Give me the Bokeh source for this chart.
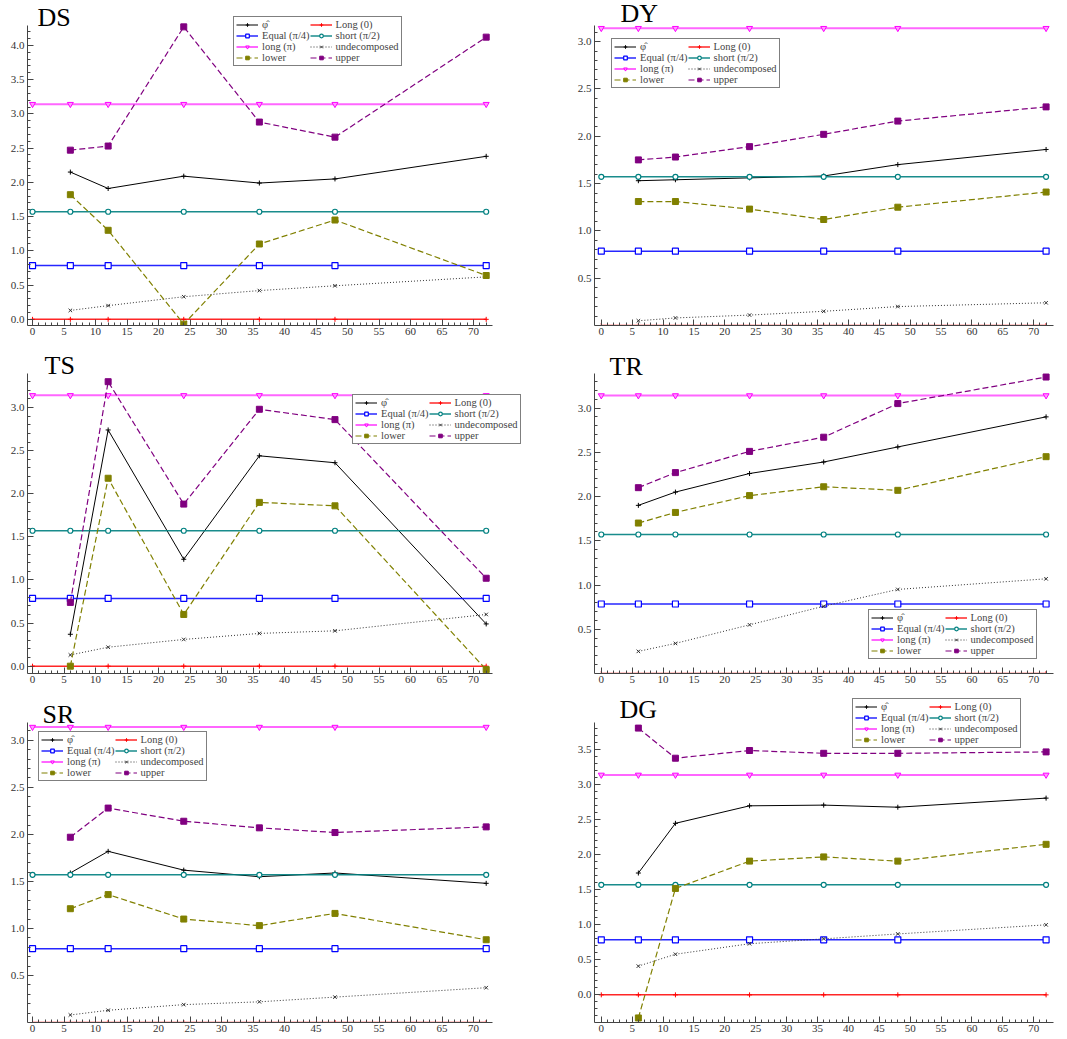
import numpy as np
from bokeh.plotting import figure
from bokeh.models import FixedTicker, Label, Legend, LegendItem, Range1d, PrintfTickFormatter
from bokeh.layouts import column, row
from bokeh.embed import file_html
from bokeh.resources import INLINE

# ---------------- data ----------------
X_CONST = [0, 6, 12, 24, 36, 48, 72]
X_DATA = [6, 12, 24, 36, 48, 72]

LONG0 = 0.0
EQUAL = np.pi / 4
SHORT = np.pi / 2
LONGPI = np.pi

DS_phi = [2.15, 1.91, 2.09, 1.99, 2.05, 2.38]
DS_lower = [1.82, 1.30, -0.07, 1.10, 1.45, 0.64]
DS_upper = [2.47, 2.53, 4.27, 2.88, 2.66, 4.12]
DS_undec = [0.13, 0.20, 0.33, 0.42, 0.49, 0.62]

DY_phi = [1.53, 1.54, 1.56, 1.58, 1.70, 1.86]
DY_lower = [1.31, 1.31, 1.23, 1.12, 1.25, 1.41]
DY_upper = [1.75, 1.78, 1.89, 2.02, 2.16, 2.31]
DY_undec = [0.05, 0.08, 0.11, 0.15, 0.20, 0.24]

TS_phi = [0.37, 2.74, 1.24, 2.44, 2.36, 0.49]
TS_lower = [0.00, 2.18, 0.60, 1.90, 1.86, -0.04]
TS_upper = [0.74, 3.30, 1.88, 2.98, 2.86, 1.02]
TS_undec = [0.13, 0.22, 0.31, 0.38, 0.41, 0.60]

TR_phi = [1.90, 2.05, 2.26, 2.39, 2.56, 2.90]
TR_lower = [1.70, 1.82, 2.01, 2.11, 2.07, 2.45]
TR_upper = [2.10, 2.27, 2.51, 2.67, 3.05, 3.35]
TR_undec = [0.25, 0.34, 0.55, 0.76, 0.95, 1.07]

SR_phi = [1.59, 1.82, 1.62, 1.55, 1.59, 1.48]
SR_lower = [1.21, 1.36, 1.10, 1.03, 1.16, 0.88]
SR_upper = [1.97, 2.28, 2.14, 2.07, 2.02, 2.08]
SR_undec = [0.08, 0.13, 0.19, 0.22, 0.27, 0.37]

DG_phi = [1.74, 2.45, 2.70, 2.71, 2.68, 2.81]
DG_lower = [-0.33, 1.52, 1.91, 1.97, 1.91, 2.15]
DG_upper = [3.81, 3.38, 3.49, 3.45, 3.45, 3.47]
DG_undec = [0.41, 0.58, 0.73, 0.80, 0.87, 1.00]

X_TICKS = [0, 5, 10, 15, 20, 25, 30, 35, 40, 45, 50, 55, 60, 65, 70]
Y_TICKS = [0.0, 0.5, 1.0, 1.5, 2.0, 2.5, 3.0, 3.5, 4.0]

LABELS = ["\u03c6\u0302", "Long (0)", "Equal (\u03c0/4)", "short (\u03c0/2)",
          "long (\u03c0)", "undecomposed", "lower", "upper"]

SERIF = "Liberation Serif"

panels = [
    dict(name="DS", phi=DS_phi, lower=DS_lower, upper=DS_upper, undec=DS_undec,
         yr=(-0.09, 4.29), zero=True, side="L", rowi=0, leg=(206, 259), tx=10, ty=8),
    dict(name="DY", phi=DY_phi, lower=DY_lower, upper=DY_upper, undec=DY_undec,
         yr=(0.0, 3.17), zero=False, side="R", rowi=0, leg=(17, 237), tx=26, ty=12),
    dict(name="TS", phi=TS_phi, lower=TS_lower, upper=TS_upper, undec=TS_undec,
         yr=(-0.085, 3.395), zero=True, side="L", rowi=1, leg=(325, 229), tx=17, ty=8),
    dict(name="TR", phi=TR_phi, lower=TR_lower, upper=TR_upper, undec=TR_undec,
         yr=(0.0, 3.39), zero=False, side="R", rowi=1, leg=(274, 14), tx=15, ty=7),
    dict(name="SR", phi=SR_phi, lower=SR_lower, upper=SR_upper, undec=SR_undec,
         yr=(0.0, 3.19), zero=False, side="L", rowi=2, leg=(11, 241), tx=15, ty=8),
    dict(name="DG", phi=DG_phi, lower=DG_lower, upper=DG_upper, undec=DG_undec,
         yr=(-0.395, 3.89), zero=True, side="R", rowi=2, leg=(258, 274), tx=25, ty=13),
]

FRAME_H = 300  # height of the axis box in px
ROWS = [dict(top=25, bot=15), dict(top=33, bot=15), dict(top=34, bot=15)]


def make_panel(c):
    r = ROWS[c["rowi"]]
    h = r["top"] + FRAME_H + r["bot"]
    if c["side"] == "L":
        w, bl, inner_w, xr = 533, 27, 465, (-0.8, 73.0)
    else:
        w, bl, inner_w, xr = 534, 61, 459, (-1.1, 73.2)
    br = w - bl - inner_w
    ymin, ymax = c["yr"]
    sy = FRAME_H / (ymax - ymin)
    sx = inner_w / (xr[1] - xr[0])
    # extend the frame over the title/legend margins so nothing is clipped
    y_top = ymax + r["top"] / sy
    x_right = xr[1] + br / sx
    p = figure(width=w, height=h, x_range=Range1d(xr[0], x_right),
               y_range=Range1d(ymin, y_top),
               output_backend="svg", toolbar_location=None,
               min_border_left=bl, min_border_right=0,
               min_border_top=0, min_border_bottom=r["bot"])
    p.outline_line_color = None
    p.grid.visible = False
    p.background_fill_color = "white"
    p.border_fill_color = "white"

    for ax in (p.xaxis[0], p.yaxis[0]):
        ax.axis_line_color = "#444444"
        ax.major_tick_line_color = "#444444"
        ax.minor_tick_line_color = "#444444"
        ax.major_tick_in = 6
        ax.major_tick_out = 0
        ax.minor_tick_in = 3
        ax.minor_tick_out = 0
        ax.major_label_text_font = SERIF
        ax.major_label_text_font_size = "11px"
        ax.major_label_text_color = "#333333"
        ax.axis_label_standoff = 0
    p.xaxis[0].major_label_standoff = 2
    p.yaxis[0].major_label_standoff = 3
    p.xaxis[0].bounds = (xr[0], xr[1])
    p.yaxis[0].bounds = (ymin, ymax)
    p.xaxis[0].ticker = FixedTicker(ticks=X_TICKS, minor_ticks=list(range(0, 73)))
    yt = [t for t in Y_TICKS if ymin <= t <= ymax and (c["zero"] or t > 0)]
    p.yaxis[0].ticker = FixedTicker(
        ticks=yt,
        minor_ticks=[round(v, 2) for v in np.arange(-0.5, 4.5, 0.1) if ymin <= v <= ymax])
    p.yaxis[0].formatter = PrintfTickFormatter(format="%.1f")

    n = len(X_CONST)
    items = []
    # phi
    l = p.line(X_DATA, c["phi"], line_color="black", line_width=1)
    s = p.scatter(X_DATA, c["phi"], marker="cross", size=5, line_color="black")
    items.append(LegendItem(label=LABELS[0], renderers=[l, s]))
    # Long (0)
    l = p.line(X_CONST, [LONG0] * n, line_color="#ff0000", line_width=1.5, line_alpha=0.85)
    s = p.scatter(X_CONST, [LONG0] * n, marker="cross", size=5, line_color="#ff0000")
    items.append(LegendItem(label=LABELS[1], renderers=[l, s]))
    # Equal
    l = p.line(X_CONST, [EQUAL] * n, line_color="#0000ff", line_width=1.5, line_alpha=0.85)
    s = p.scatter(X_CONST, [EQUAL] * n, marker="square", size=6, line_color="#0000ff",
                  fill_color="white", line_width=1.2)
    items.append(LegendItem(label=LABELS[2], renderers=[l, s]))
    # short
    l = p.line(X_CONST, [SHORT] * n, line_color="#008080", line_width=1.5, line_alpha=0.9)
    s = p.scatter(X_CONST, [SHORT] * n, marker="circle", size=5, line_color="#008080",
                  fill_color="white", line_width=1.2)
    items.append(LegendItem(label=LABELS[3], renderers=[l, s]))
    # long pi
    l = p.line(X_CONST, [LONGPI] * n, line_color="#ff00ff", line_width=2, line_alpha=0.6)
    s = p.scatter(X_CONST, [LONGPI] * n, marker="inverted_triangle", size=6,
                  line_color="#ff00ff", fill_color="#ff99ff")
    items.append(LegendItem(label=LABELS[4], renderers=[l, s]))
    # undecomposed
    l = p.line(X_DATA, c["undec"], line_color="#333333", line_width=1, line_dash="1 2")
    s = p.scatter(X_DATA, c["undec"], marker="x", size=5, line_color="#333333")
    items.append(LegendItem(label=LABELS[5], renderers=[l, s]))
    # lower
    l = p.line(X_DATA, c["lower"], line_color="#808000", line_width=1.2, line_dash="6 3")
    s = p.scatter(X_DATA, c["lower"], marker="square", size=6, line_color="#808000",
                  fill_color="#808000")
    items.append(LegendItem(label=LABELS[6], renderers=[l, s]))
    # upper
    l = p.line(X_DATA, c["upper"], line_color="#800080", line_width=1.2, line_dash="6 3")
    s = p.scatter(X_DATA, c["upper"], marker="square", size=6, line_color="#800080",
                  fill_color="#800080")
    items.append(LegendItem(label=LABELS[7], renderers=[l, s]))

    leg = Legend(items=items, location=c["leg"], orientation="horizontal", ncols=2,
                 label_text_font=SERIF, label_text_font_size="10.5px",
                 label_height=9, glyph_height=9, glyph_width=22,
                 label_standoff=4, padding=2, spacing=0, margin=0,
                 border_line_color="black", border_line_width=1,
                 background_fill_color="white", background_fill_alpha=1.0)
    p.add_layout(leg)

    p.add_layout(Label(x=c["tx"], y=FRAME_H + c["ty"], x_units="screen", y_units="screen",
                       text=c["name"], text_font=SERIF, text_font_size="26px",
                       text_baseline="alphabetic", text_color="black"))
    return p


figs = [make_panel(c) for c in panels]
layout = column(row(figs[0], figs[1]), row(figs[2], figs[3]), row(figs[4], figs[5]))

open("out.html", "w").write(file_html(layout, INLINE))
